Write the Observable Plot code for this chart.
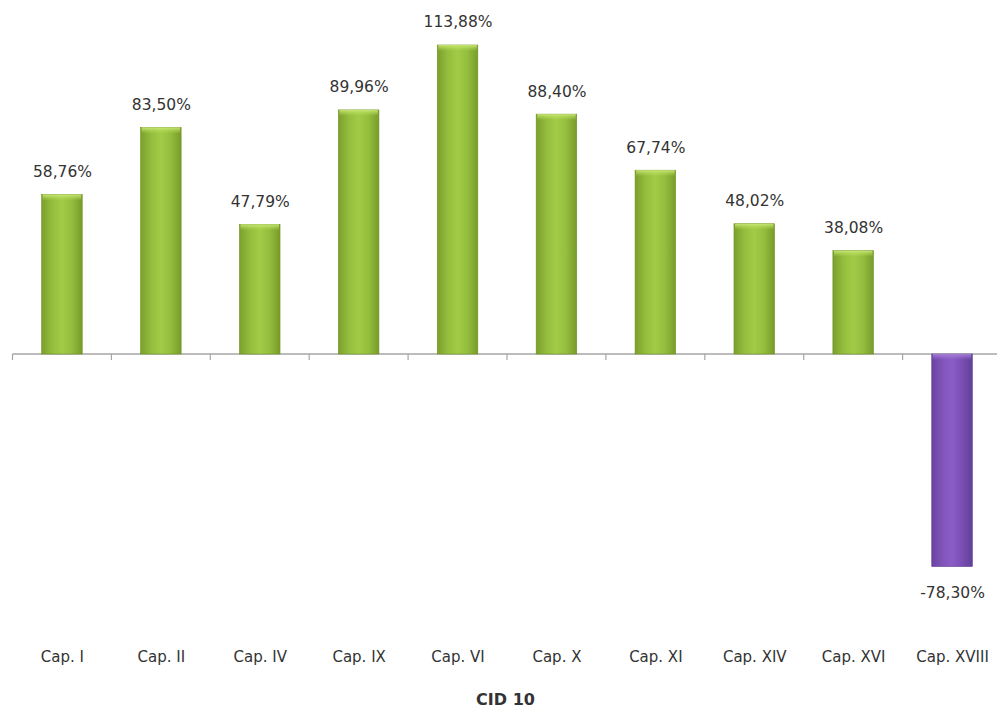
<!DOCTYPE html>
<html>
<head>
<meta charset="utf-8">
<script src="https://cdn.jsdelivr.net/npm/d3@7"></script>
<script src="https://cdn.jsdelivr.net/npm/@observablehq/plot@0.6"></script>
<style>
  html, body { margin: 0; padding: 0; background: #fff; }
  #chart svg { display: block; }
</style>
</head>
<body>
<div id="chart"></div>
<script>
const categories = ["Cap. I", "Cap. II", "Cap. IV", "Cap. IX", "Cap. VI", "Cap. X", "Cap. XI", "Cap. XIV", "Cap. XVI", "Cap. XVIII"];
const values = [58.76, 83.50, 47.79, 89.96, 113.88, 88.40, 67.74, 48.02, 38.08, -78.30];
const axisTitle = "CID 10";

const data = categories.map((c, i) => ({cat: c, value: values[i]}));
const fmt = v => v.toFixed(2).replace(".", ",") + "%";
const FONT = "DejaVu Sans, sans-serif";

const pIn = 0.59, pOut = 0.295;

const chart = Plot.plot({
  width: 997,
  height: 715,
  marginTop: 45,
  marginBottom: 148.5,
  marginLeft: 13,
  marginRight: 0,
  style: {fontFamily: FONT, background: "#fff"},
  x: {domain: categories, range: [12.5, 1001.5], round: false, paddingInner: pIn, paddingOuter: pOut, axis: null},
  y: {domain: [-78.30, 113.88], axis: null},
  marks: [
    Plot.barY(data, {x: "cat", y: "value", fill: d => d.value >= 0 ? "url(#gGreen)" : "url(#gPurple)", stroke: d => d.value >= 0 ? "#6f9125" : "#5a3690", strokeWidth: 0.6}),
    // soft lighter cap at the top of each bar
    Plot.barY(data, {x: "cat", y1: d => Math.max(d.value, 0), y2: d => Math.max(d.value, 0), insetBottom: -6, insetLeft: 1, insetRight: 1, fill: d => d.value >= 0 ? "url(#capGreen)" : "url(#capPurple)"}),
    Plot.text(data.filter(d => d.value >= 0), {x: "cat", y: "value", text: d => fmt(d.value), dy: -23, fontSize: 15.5, fill: "#333"}),
    Plot.text(data.filter(d => d.value < 0), {x: "cat", y: "value", text: d => fmt(d.value), dy: 26, fontSize: 15.5, fill: "#333"}),
    Plot.axisX({anchor: "bottom", tickSize: 0, tickPadding: 84, fontSize: 15, fill: "#333", label: null}),
    Plot.text([axisTitle], {frameAnchor: "bottom", dy: 138, fontSize: 16, fontWeight: "bold", fill: "#333"})
  ]
});

const svg = d3.select(chart.tagName.toLowerCase() === "svg" ? chart : chart.querySelector("svg"));
const defs = svg.insert("defs", ":first-child");
function grad(id, stops, vertical) {
  const g = defs.append("linearGradient").attr("id", id)
    .attr("x1", "0").attr("x2", vertical ? "0" : "1").attr("y1", "0").attr("y2", vertical ? "1" : "0");
  stops.forEach(([o, c, op]) => g.append("stop").attr("offset", o).attr("stop-color", c).attr("stop-opacity", op == null ? 1 : op));
}
grad("gGreen", [[0, "#7b9f2c"], [0.25, "#93bd3d"], [0.5, "#a2cb47"], [0.75, "#93bd3d"], [1, "#789b2a"]]);
grad("gPurple", [[0, "#6a43a3"], [0.3, "#8256bd"], [0.5, "#8b5cc6"], [0.7, "#7c51b6"], [1, "#62409a"]]);
grad("capGreen", [[0, "#cdea7a", 0.9], [1, "#b8e05a", 0]], true);
grad("capPurple", [[0, "#b08ae0", 0.8], [1, "#a57ad8", 0]], true);

// zero line across the band range, and boundary tick marks beneath it
const xs = chart.scale("x"), ys = chart.scale("y");
const band = d3.scaleBand().domain(xs.domain).range(xs.range).paddingInner(pIn).paddingOuter(pOut);
const yScale = d3.scaleLinear().domain(ys.domain).range(ys.range);
const y0 = yScale(0);
const step = band.step();
const bounds = categories.map(c => band(c) - step * pIn / 2);
const g = svg.insert("g", "g");
g.append("line").attr("x1", xs.range[0]).attr("x2", 997).attr("y1", y0).attr("y2", y0)
  .attr("stroke", "#a6a6a6").attr("stroke-width", 1.3);
g.selectAll("line.t").data(bounds).join("line").attr("class", "t")
  .attr("x1", d => d).attr("x2", d => d)
  .attr("y1", y0).attr("y2", y0 + 6)
  .attr("stroke", "#a6a6a6").attr("stroke-width", 1.2);

document.getElementById("chart").appendChild(chart);
</script>
</body>
</html>
